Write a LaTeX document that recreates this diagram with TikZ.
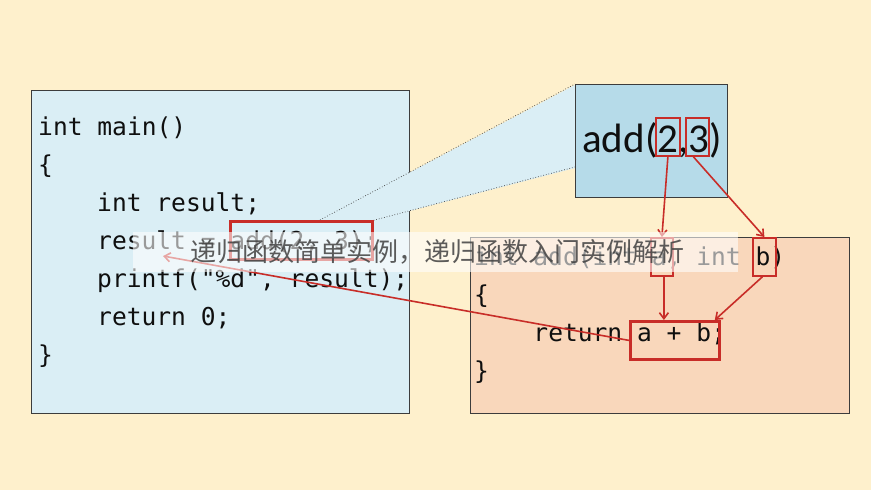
\documentclass[tikz,border=0pt]{standalone}
\usepackage{fontspec}
\setmainfont{Carlito}
\setmonofont{DejaVu Sans Mono}
\newfontfamily\cjk{Noto Sans CJK SC}
\usetikzlibrary{arrows.meta}
\definecolor{bg}{RGB}{254,240,204}
\definecolor{lblue}{RGB}{218,238,245}
\definecolor{mblue}{RGB}{182,219,233}
\definecolor{peach}{RGB}{249,215,187}
\definecolor{redc}{RGB}{200,45,40}
\definecolor{frame}{RGB}{60,60,60}
\definecolor{ink}{RGB}{15,15,15}
\begin{document}
\begin{tikzpicture}[x=1pt,y=-1pt,
  panel/.style={draw=frame, line width=0.9pt, inner sep=0pt, anchor=north west},
  code/.style={font=\ttfamily\fontsize{24.6}{28}\selectfont, inner sep=0pt, anchor=base west, text=ink},
  redbox/.style={draw=redc, line width=1.8pt, inner sep=0pt, anchor=north west},
  bigredbox/.style={draw=redc, line width=2.8pt, inner sep=0pt, anchor=north west},
  redarrow/.style={draw=redc, line width=1.6pt, -{Straight Barb[length=6pt,width=9pt]}},
  magline/.style={draw=frame, line width=0.7pt, dotted}
]
\fill[bg] (0,0) rectangle (871,490);
\useasboundingbox (0,0) rectangle (871,490);

% left panel
\node[panel, fill=lblue, minimum width=378pt, minimum height=323pt] (left) at (31,90) {};

% magnifier cone
\coordinate (c1) at (320,220);
\coordinate (c2) at (371,221);
\fill[lblue] (c1) -- (575,85) -- (575,168) -- (c2) -- cycle;

% zoom box
\node[panel, fill=mblue, minimum width=152pt, minimum height=113pt] (zoom) at (575,84) {};
\draw[magline] (c1) -- (zoom.north west);
\draw[magline] (c2) -- ([yshift=-83pt]zoom.north west);
\node[font=\fontsize{41}{41}\selectfont, anchor=base, inner sep=0pt, text=ink] (call) at (652,152) {add(2,3)};

% right panel
\node[panel, fill=peach, minimum width=379pt, minimum height=176pt] (right) at (470,237) {};

% left code
\node[code] (l1) at (38,135) {int main()};
\node[code] (l2) at (38,173) {\{};
\node[code] (l3) at (97,211) {int result;};
\node[code] (l4) at (97,249) {result = add(2, 3);};
\node[code] (l5) at (97,287) {printf("\%d", result);};
\node[code] (l6) at (97,325) {return 0;};
\node[code] (l7) at (38,363) {\}};

% right code
\node[code] (r1) at (474,265) {int add(int a, int b)};
\node[code] (r2) at (474,303) {\{};
\node[code] (r3) at (474,341) {\ \ \ \ return a + b;};
\node[code] (r4) at (474,379) {\}};

% red boxes
\node[bigredbox, minimum width=142pt, minimum height=38pt] (bcall) at (229,220) {};
\node[redbox, minimum width=24pt, minimum height=38pt] (b2) at (655,117) {};
\node[redbox, minimum width=23pt, minimum height=38pt] (b3) at (685,117) {};
\node[redbox, minimum width=22pt, minimum height=38pt] (ba) at (650,237) {};
\node[redbox, minimum width=23pt, minimum height=38pt] (bb) at (752,237) {};
\node[bigredbox, minimum width=89pt, minimum height=38pt] (bsum) at (629,320) {};

% arrows
\coordinate (res) at (163,256);
\draw[redarrow] (b2.south) -- (ba.north);
\draw[redarrow] ([xshift=-4pt]b3.south) -- (bb.north);
\draw[redarrow] ([xshift=2pt]ba.south) -- ([xshift=-11pt]bsum.north);
\draw[redarrow] ([xshift=-2pt]bb.south) -- ([xshift=-6pt]bsum.north east);
\draw[redarrow] (bsum.west) -- (res);

% watermark
\fill[white, opacity=0.58] (133,232) rectangle (738,272);
\node[font=\cjk\fontsize{26}{26}\selectfont, text=black!75, text opacity=0.85, inner sep=0pt] (wm) at (437,252) {递归函数简单实例，递归函数入门实例解析};
\end{tikzpicture}
\end{document}
